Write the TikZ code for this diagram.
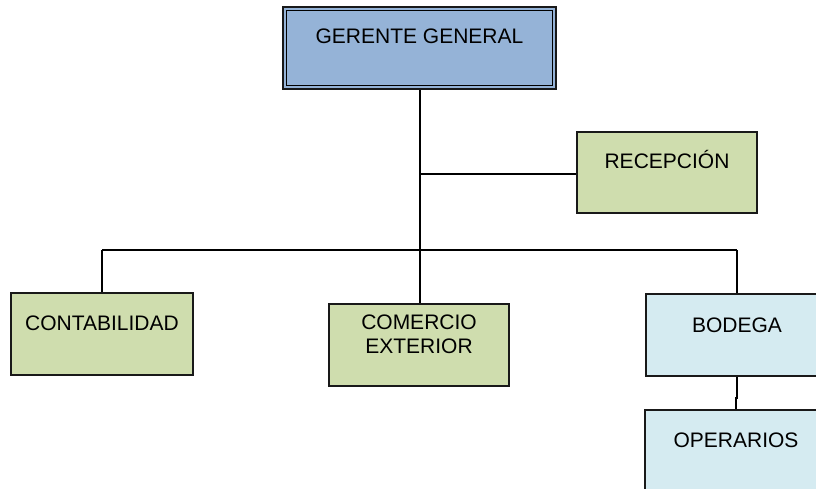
\documentclass[tikz,border=0pt]{standalone}
\usepackage{fontspec}
\setmainfont{Liberation Sans}
\usetikzlibrary{calc}
\definecolor{topblue}{HTML}{95B3D7}
\definecolor{boxgreen}{HTML}{CFDDAE}
\definecolor{boxcyan}{HTML}{D5EBF1}
\begin{document}
\begin{tikzpicture}[x=1pt,y=-1pt,
  box/.style={draw=black!90, line width=1.6pt, inner sep=0pt, minimum width=#1},
  box/.default=182pt,
  lbl/.style={inner sep=0pt, anchor=base, font=\fontsize{21}{24}\selectfont, align=center},
  conn/.style={draw=black, line width=1.6pt}]
\useasboundingbox (0,0) rectangle (816,488);
% boxes
\node[box=273pt, minimum height=82pt, fill=topblue] (ger) at (419.5,48) {};
\draw[line width=1.2pt] ($(ger.south west)+(4,-4)$) rectangle ($(ger.north east)+(-4,4)$);
\node[box=180pt, minimum height=81pt, fill=boxgreen] (rec) at (667,172.5) {};
\node[box, minimum height=82pt, fill=boxgreen] (cont) at (102,334) {};
\node[box=180pt, minimum height=82pt, fill=boxgreen] (com) at (419,345) {};
\node[box, minimum height=82pt, fill=boxcyan] (bod) at (737,335) {};
\node[box, minimum height=82pt, fill=boxcyan] (ope) at (736,451) {};
% labels
\node[lbl] (tger) at (419.5,43) {GERENTE GENERAL};
\node[lbl] (trec) at (667,168) {RECEPCIÓN};
\node[lbl] (tcont) at (102,330) {CONTABILIDAD};
\node[lbl, anchor=north] (tcom) at (419,315) {COMERCIO\\EXTERIOR};
\node[lbl] (tbod) at (737,332) {BODEGA};
\node[lbl] (tope) at (736,447) {OPERARIOS};
% connectors
\coordinate (trunk) at (420,250);
\coordinate (jrec) at (420,174);
\draw[conn] (ger.south -| trunk) -- (trunk);
\draw[conn] (jrec) -- (jrec -| rec.west);
\draw[conn] (trunk -| cont.north) -- (trunk -| bod.north);
\draw[conn] (trunk -| cont.north) -- (cont.north);
\draw[conn] (trunk) -- (trunk |- com.north);
\draw[conn] (trunk -| bod.north) -- (bod.north);
\draw[conn] (bod.south) -- ++(0,21) -| (ope.north);
\end{tikzpicture}
\end{document}
